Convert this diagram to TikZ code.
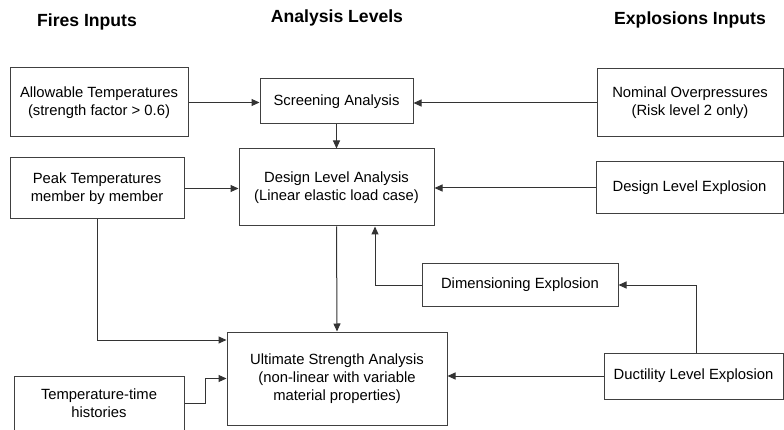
\documentclass[tikz,border=0pt]{standalone}
\usepackage{fontspec}
\setmainfont{Liberation Sans}
\usetikzlibrary{arrows.meta}
\begin{document}
\begin{tikzpicture}[x=1pt,y=-1pt,
  box/.style={draw=black!75, line width=1pt, align=center, inner sep=0pt,
    font=\fontsize{14.8}{18}\selectfont},
  head/.style={font=\fontsize{17.6}{20}\selectfont\bfseries, inner sep=0pt},
  arr/.style={draw=black!80, line width=1pt, -{Triangle[length=8pt,width=7pt]}},
  ln/.style={draw=black!80, line width=1pt}]
\useasboundingbox (0,0) rectangle (784,430);
% headings
\node[head] (h1) at (87,22) {Fires Inputs};
\node[head] (h2) at (337,18) {Analysis Levels};
\node[head] (h3) at (690,20) {Explosions Inputs};
% boxes
\node[box, minimum width=178, minimum height=69] (allow) at (99,102.5) {Allowable Temperatures\\(strength factor > 0.6)};
\node[box, minimum width=153, minimum height=45] (scr) at (336.5,101.5) {Screening Analysis};
\node[box, minimum width=186, minimum height=68] (nom) at (690,103) {Nominal Overpressures\\(Risk level 2 only)};
\node[box, minimum width=174, minimum height=61] (peak) at (97,188.5) {Peak Temperatures\\member by member};
\node[box, minimum width=195, minimum height=77] (des) at (336.5,187.5) {Design Level Analysis\\(Linear elastic load case)};
\node[box, minimum width=187, minimum height=52] (dle) at (689.5,188) {Design Level Explosion};
\node[box, minimum width=196, minimum height=42] (dim) at (520,285) {Dimensioning Explosion};
\node[box, minimum width=220, minimum height=93] (ult) at (337,378.5) {Ultimate Strength Analysis\\(non-linear with variable\\material properties)};
\node[box, minimum width=170, minimum height=54] (temp) at (99,403) {Temperature-time\\histories};
\node[box, minimum width=179, minimum height=46] (duct) at (693.5,376) {Ductility Level Explosion};
% connectors
\draw[arr] (allow.east) -- (allow.east -| scr.west);
\draw[arr] (nom.west) -- (nom.west -| scr.east);
\draw[arr] (scr.south) -- (des.north);
\draw[arr] (peak.east) -- (peak.east -| des.west);
\draw[arr] (dle.west) -- (dle.west -| des.east);
\draw[arr] (des.south) -- (ult.north);
\draw[arr] (peak.south) |- ([yshift=38.5pt]ult.west);
\draw[arr] (temp.east) -- ++(21,0) |- (ult.west);
\draw[arr] (dim.west) -| ([xshift=38.5pt]des.south);
\draw[arr] ([xshift=2.5pt]duct.north) |- (dim.east);
\draw[arr] (duct.west) -- (duct.west -| ult.east);
\end{tikzpicture}
\end{document}
